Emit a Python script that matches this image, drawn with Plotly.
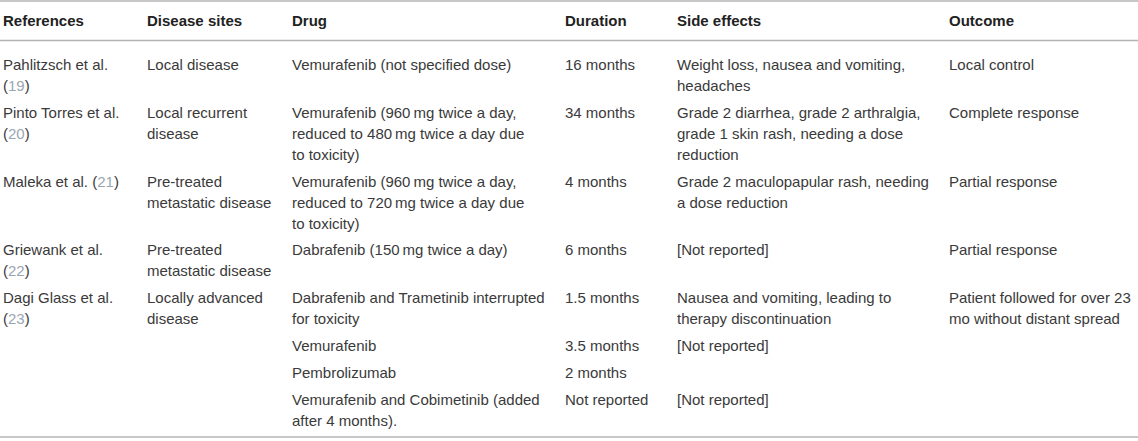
import re
import plotly.graph_objects as go

# table content
headers = ["References", "Disease sites", "Drug", "Duration", "Side effects", "Outcome"]

references = ["Pahlitzsch et al.\n(19)", "Pinto Torres et al.\n(20)", "Maleka et al. (21)",
              "Griewank et al.\n(22)", "Dagi Glass et al.\n(23)"]
disease_sites = ["Local disease", "Local recurrent\ndisease", "Pre-treated\nmetastatic disease",
                 "Pre-treated\nmetastatic disease", "Locally advanced\ndisease"]
outcomes = ["Local control", "Complete response", "Partial response", "Partial response",
            "Patient followed for over 23\nmo without distant spread"]

# each study may have several drug lines (drug, duration, side effects)
drugs = [
    ["Vemurafenib (not specified dose)"],
    ["Vemurafenib (960\u2009mg twice a day,\nreduced to 480\u2009mg twice a day due\nto toxicity)"],
    ["Vemurafenib (960\u2009mg twice a day,\nreduced to 720\u2009mg twice a day due\nto toxicity)"],
    ["Dabrafenib (150\u2009mg twice a day)"],
    ["Dabrafenib and Trametinib interrupted\nfor toxicity", "Vemurafenib", "Pembrolizumab",
     "Vemurafenib and Cobimetinib (added\nafter 4 months)."],
]
durations = [
    ["16 months"],
    ["34 months"],
    ["4 months"],
    ["6 months"],
    ["1.5 months", "3.5 months", "2 months", "Not reported"],
]
side_effects = [
    ["Weight loss, nausea and vomiting,\nheadaches"],
    ["Grade 2 diarrhea, grade 2 arthralgia,\ngrade 1 skin rash, needing a dose\nreduction"],
    ["Grade 2 maculopapular rash, needing\na dose reduction"],
    ["[Not reported]"],
    ["Nausea and vomiting, leading to\ntherapy discontinuation", "[Not reported]", "", "[Not reported]"],
]

W, H = 1138, 441
col_x = [1, 145, 290, 563, 675, 947]
header_y = 20
first_y = 64.5
line_h = 21
row_gap = 5.8
font = "Liberation Sans, Arial, sans-serif"
text_col = "#3a3a3a"
ref_col = "#9aa6b2"
rule_col = "#b4b4b4"


def colour_refs(s):
    return re.sub(r"\((\d+)\)", r"(<span style='color:%s'>\1</span>)" % ref_col, s)


fig = go.Figure()
annotations = []


def add_cell(text, x, y, bold=False):
    for i, line in enumerate(text.split("\n")):
        if not line:
            continue
        annotations.append(dict(
            x=x, y=y + i * line_h, xref="x", yref="y", text=line,
            xanchor="left", yanchor="middle", showarrow=False,
            font=dict(family=font, size=15, color="#222" if bold else text_col),
        ))


for h, x in zip(headers, col_x):
    add_cell("<b>" + h + "</b>", x, header_y, bold=True)

y = first_y
for r in range(len(references)):
    add_cell(colour_refs(references[r]), col_x[0], y)
    add_cell(disease_sites[r], col_x[1], y)
    add_cell(outcomes[r], col_x[5], y)
    main_lines = max(references[r].count("\n"), disease_sites[r].count("\n"), outcomes[r].count("\n")) + 1
    sub_y = y
    for d, du, se in zip(drugs[r], durations[r], side_effects[r]):
        add_cell(d, col_x[2], sub_y)
        add_cell(du, col_x[3], sub_y)
        add_cell(se, col_x[4], sub_y)
        n = max(d.count("\n"), du.count("\n"), se.count("\n")) + 1
        sub_y += n * line_h + row_gap
    y = max(sub_y, y + main_lines * line_h + row_gap)

# horizontal rules
for ry in [1, 40.5, 437]:
    fig.add_shape(type="line", xref="paper", yref="y", x0=0, x1=1, y0=ry, y1=ry,
                  line=dict(color=rule_col, width=1.5))

fig.update_layout(
    width=W, height=H, margin=dict(l=0, r=0, t=0, b=0),
    paper_bgcolor="white", plot_bgcolor="white",
    xaxis=dict(range=[0, W], visible=False, fixedrange=True),
    yaxis=dict(range=[H, 0], visible=False, fixedrange=True),
    annotations=annotations, showlegend=False,
)

# drop the default page margin so the table sits flush in the window
fig.write_html("out.html", config={"displayModeBar": False},
               post_script="document.body.style.margin='0';")
